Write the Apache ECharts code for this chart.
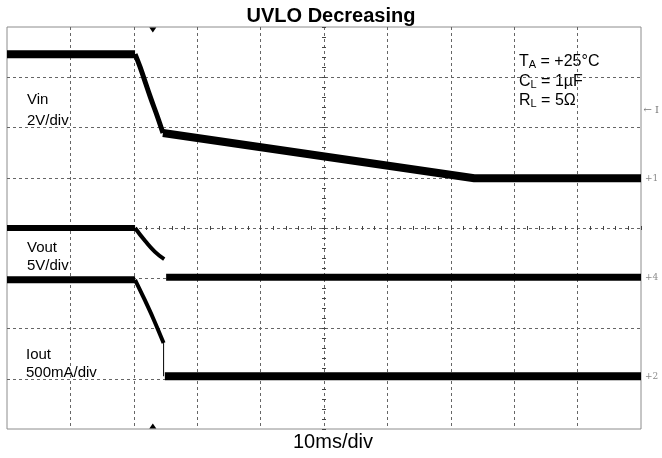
<!DOCTYPE html>
<html><head><meta charset="utf-8">
<script src="https://cdn.jsdelivr.net/npm/echarts@6/dist/echarts.min.js"></script>
<style>html,body{margin:0;padding:0;background:#fff}#c{width:662px;height:458px}</style>
</head><body><div id="c"></div>
<script>
const FONT = '"Liberation Sans", Arial, Helvetica, sans-serif';

// time in ms (10 ms/div, 10 divisions); levels in screen divisions (0..8 from bottom)
const vinTime   = [0, 20.2, 21.0, 22.6, 23.8, 24.6, 73.7, 100];
const vinLevel  = [7.46, 7.46, 7.20, 6.61, 6.19, 5.89, 4.99, 4.99];

const voutTime  = [0, 20.2, 21.8, 23.3, 24.8];
const voutLevel = [4.00, 4.00, 3.74, 3.53, 3.38];
const voutLowTime  = [25.1, 100];
const voutLowLevel = [3.02, 3.02];

const ioutTime  = [0, 20.2, 21.5, 23.1, 24.7];
const ioutLevel = [2.97, 2.97, 2.63, 2.19, 1.71];
const ioutStepTime  = [24.7, 24.7];
const ioutStepLevel = [1.71, 1.05];
const ioutLowTime  = [24.9, 100];
const ioutLowLevel = [1.05, 1.05];

const triggerTime = 23.0;
const triggerLevel = 6.35;

const chLabels = ['1', '4', '2'];

function pts(t, v, a, b) {
  const out = [];
  for (let i = a; i <= b; i++) out.push([t[i], v[i]]);
  return out;
}
function line(data, width, extra) {
  return Object.assign({
    type: 'line', xAxisIndex: 0, yAxisIndex: 0, data: data,
    showSymbol: false, symbol: 'none', silent: true, animation: false,
    lineStyle: { color: '#000', width: width, cap: 'butt', join: 'round' }
  }, extra || {});
}
function endLbl(txt) {
  return { endLabel: { show: true, formatter: '+' + txt, color: '#8a8a8a', fontSize: 9,
    fontFamily: 'DejaVu Serif', distance: 4 } };
}

const GRECT = { left: 7, top: 27, width: 634, height: 402 };
const dash = { color: '#666', type: [3, 3], width: 1 };

function tickX(g, inside) {
  return { gridIndex: g, type: 'value', min: -50, max: 50, interval: 2,
    axisLine: { show: false, onZero: true }, axisLabel: { show: false },
    axisTick: { show: true, inside: inside, length: 2, lineStyle: { color: '#444' } },
    splitLine: { show: false } };
}
function tickY(g, inside) {
  return { gridIndex: g, type: 'value', min: -4, max: 4, interval: 0.2,
    axisLine: { show: false, onZero: true }, axisLabel: { show: false },
    axisTick: { show: true, inside: inside, length: 2, lineStyle: { color: '#444' } },
    splitLine: { show: false } };
}

const labelStyle = { fontSize: 15, fontFamily: FONT, fill: '#000' };
function txt(x, y, s, st) {
  return { type: 'text', left: x, top: y, style: Object.assign({ text: s }, labelStyle, st || {}) };
}
const richSub = {
  m: { fontSize: 16, fontFamily: FONT, fill: '#000' },
  s: { fontSize: 11, fontFamily: FONT, fill: '#000', verticalAlign: 'bottom' }
};

const option = {
  backgroundColor: '#fff',
  animation: false,
  title: { text: 'UVLO Decreasing', left: 'center', top: 1,
    textStyle: { fontSize: 20, fontWeight: 'bold', fontFamily: FONT, color: '#000' } },
  grid: [
    Object.assign({ show: true, borderColor: '#8c8c8c', borderWidth: 1, backgroundColor: 'transparent' }, GRECT),
    Object.assign({}, GRECT),
    Object.assign({}, GRECT)
  ],
  xAxis: [
    { gridIndex: 0, type: 'value', min: 0, max: 100, interval: 10,
      axisLine: { show: false }, axisTick: { show: false }, axisLabel: { show: false },
      splitLine: { show: true, showMinLine: false, showMaxLine: false, lineStyle: dash } },
    tickX(1, true), tickX(2, false)
  ],
  yAxis: [
    { gridIndex: 0, type: 'value', min: 0, max: 8, interval: 1,
      axisLine: { show: false }, axisTick: { show: false }, axisLabel: { show: false },
      splitLine: { show: true, showMinLine: false, showMaxLine: false, lineStyle: dash } },
    tickY(1, true), tickY(2, false)
  ],
  series: [
    line(pts(vinTime, vinLevel, 0, 1), 8, {
      markPoint: {
        silent: true, animation: false,
        data: [
          { coord: [triggerTime, 8], symbol: 'triangle', symbolRotate: 180, symbolSize: [7, 5],
            symbolOffset: [0, 3], itemStyle: { color: '#000' }, label: { show: false } },
          { coord: [triggerTime, 0], symbol: 'triangle', symbolSize: [7, 5],
            symbolOffset: [0, -3], itemStyle: { color: '#000' }, label: { show: false } },
          { coord: [100, triggerLevel], symbol: 'circle', symbolSize: 1,
            itemStyle: { color: 'rgba(0,0,0,0)' },
            label: { show: true, position: 'right', distance: 2, formatter: '\u2190 I',
              color: '#777', fontSize: 10, fontFamily: 'DejaVu Serif' } }
        ]
      }
    }),
    line(pts(vinTime, vinLevel, 1, 5), 5, { smooth: 0.4 }),
    line(pts(vinTime, vinLevel, 5, 7), 8, endLbl(chLabels[0])),
    line(pts(voutTime, voutLevel, 0, 1), 6),
    line(pts(voutTime, voutLevel, 1, 4), 4, { smooth: 0.5 }),
    line(pts(voutLowTime, voutLowLevel, 0, 1), 7, endLbl(chLabels[1])),
    line(pts(ioutTime, ioutLevel, 0, 1), 7),
    line(pts(ioutTime, ioutLevel, 1, 4), 4, { smooth: 0.4 }),
    line(pts(ioutStepTime, ioutStepLevel, 0, 1), 1),
    line(pts(ioutLowTime, ioutLowLevel, 0, 1), 8, endLbl(chLabels[2]))
  ],
  graphic: [
    txt(27, 92, 'Vin'),
    txt(27, 113, '2V/div'),
    txt(27, 240, 'Vout'),
    txt(27, 258, '5V/div'),
    txt(26, 347, 'Iout'),
    txt(26, 365, '500mA/div'),
    { type: 'text', left: 519, top: 54, style: { text: '{m|T}{s|A}{m| = +25\u00b0C}', rich: richSub } },
    { type: 'text', left: 519, top: 74, style: { text: '{m|C}{s|L}{m| = 1\u00b5F}', rich: richSub } },
    { type: 'text', left: 519, top: 93, style: { text: '{m|R}{s|L}{m| = 5\u03a9}', rich: richSub } },
    { type: 'text', left: 293, top: 432, style: { text: '10ms/div', fontSize: 20, fontFamily: FONT, fill: '#000' } }
  ]
};

const chart = echarts.init(document.getElementById('c'), null, { renderer: 'canvas' });
chart.setOption(option);
</script></body></html>
